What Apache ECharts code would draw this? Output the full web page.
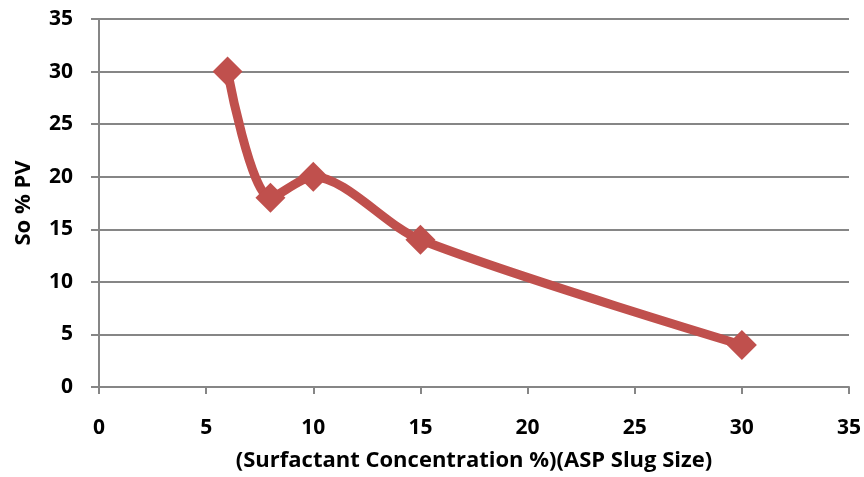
<!DOCTYPE html>
<html><head><meta charset="utf-8">
<script src="https://cdn.jsdelivr.net/npm/echarts@6/dist/echarts.min.js"></script>
<style>html,body{margin:0;padding:0;background:#fff}#c{width:864px;height:477px}</style>
</head><body><div id="c"></div>
<script>
const xValues = [6, 8, 10, 15, 30];
const soValues = [30, 18, 20, 14, 4];
const xTitle = '(Surfactant Concentration %)(ASP Slug Size)';
const yTitle = 'So % PV';
const FONT = 'Open Sans';
const chart = echarts.init(document.getElementById('c'));
chart.setOption({
  animation: false,
  grid: {left: 99, right: 15, top: 19, bottom: 89},
  xAxis: {
    type: 'value', min: 0, max: 35, interval: 5,
    name: xTitle, nameLocation: 'middle', nameGap: 63,
    nameTextStyle: {fontFamily: FONT, fontWeight: 'bold', fontSize: 22, color: '#000'},
    axisLine: {lineStyle: {color: '#868686', width: 2}},
    axisTick: {show: true, length: 7, lineStyle: {color: '#868686', width: 2}},
    axisLabel: {margin: 31, fontFamily: FONT, fontWeight: 'bold', fontSize: 21, color: '#000'},
    splitLine: {show: false}
  },
  yAxis: {
    type: 'value', min: 0, max: 35, interval: 5,
    name: yTitle, nameLocation: 'middle', nameGap: 64, nameRotate: 90,
    nameTextStyle: {fontFamily: FONT, fontWeight: 'bold', fontSize: 22, color: '#000'},
    axisLine: {show: true, lineStyle: {color: '#868686', width: 2}},
    axisTick: {show: true, length: 8, lineStyle: {color: '#868686', width: 2}},
    axisLabel: {margin: 26, fontFamily: FONT, fontWeight: 'bold', fontSize: 21, color: '#000'},
    splitLine: {lineStyle: {color: '#868686', width: 2}}
  },
  series: [{
    type: 'line',
    data: xValues.map((x, i) => [x, soValues[i]]),
    smooth: 0.3,
    symbol: 'diamond', symbolSize: 30,
    lineStyle: {color: '#C0504D', width: 9},
    itemStyle: {color: '#C0504D'}
  }]
});
</script></body></html>
